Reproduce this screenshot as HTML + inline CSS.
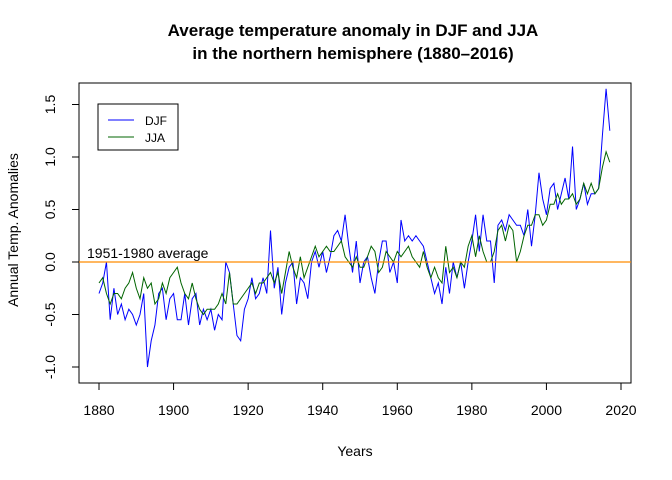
<!DOCTYPE html>
<html><head><meta charset="utf-8"><style>
body{margin:0;background:#fff}
svg{font-family:"Liberation Sans",Arial,sans-serif;display:block}
</style></head><body>
<svg id="chart" width="672" height="480">
<text x="353" y="36" text-anchor="middle" font-weight="bold" font-size="17">Average temperature anomaly in DJF and JJA</text>
<text x="353" y="59" text-anchor="middle" font-weight="bold" font-size="17">in the northern hemisphere (1880–2016)</text>
<rect x="79" y="83" width="552" height="300" fill="none" stroke="#000"/>
<text x="355" y="456" text-anchor="middle" font-size="14">Years</text>
<text transform="translate(18,230) rotate(-90)" text-anchor="middle" font-size="14">Annual Temp. Anomalies</text>
<g id="axes"></g>
<g id="series"></g>
<g>
<rect x="98" y="104" width="80" height="46" fill="#fff" stroke="#000"/>
<line x1="108" y1="120" x2="134" y2="120" stroke="#00f"/>
<text x="145" y="125" font-size="12">DJF</text>
<line x1="108" y1="137" x2="134" y2="137" stroke="#006400"/>
<text x="145" y="142" font-size="12">JJA</text>
</g>
</svg>
<script>
const startYear = 1880;
const djf = [-0.3,-0.2,0.0,-0.55,-0.25,-0.5,-0.4,-0.55,-0.45,-0.5,-0.6,-0.5,-0.3,-1.0,-0.75,-0.6,-0.3,-0.25,-0.55,-0.35,
-0.3,-0.55,-0.55,-0.3,-0.6,-0.35,-0.3,-0.6,-0.45,-0.55,-0.45,-0.65,-0.5,-0.55,0.0,-0.1,-0.4,-0.7,-0.75,-0.45,
-0.35,-0.15,-0.35,-0.3,-0.15,-0.3,0.3,-0.25,-0.05,-0.5,-0.2,-0.05,0.0,-0.4,-0.15,-0.2,-0.35,0.0,0.1,-0.05,
0.1,-0.1,0.05,0.25,0.3,0.2,0.45,0.15,-0.1,0.2,-0.2,0.0,0.05,-0.15,-0.3,0.0,0.2,0.2,-0.1,0.0,
-0.2,0.4,0.2,0.25,0.2,0.25,0.2,0.15,0.0,-0.15,-0.3,-0.2,-0.4,-0.05,-0.3,0.0,-0.15,0.0,-0.25,0.0,
0.2,0.45,0.1,0.45,0.2,0.2,-0.2,0.35,0.4,0.3,0.45,0.4,0.35,0.35,0.25,0.5,0.15,0.45,0.85,0.6,
0.45,0.7,0.75,0.5,0.65,0.8,0.6,1.1,0.5,0.6,0.75,0.55,0.65,0.65,0.7,1.2,1.65,1.25];
const jja = [-0.2,-0.15,-0.3,-0.4,-0.3,-0.3,-0.35,-0.25,-0.2,-0.1,-0.25,-0.35,-0.15,-0.25,-0.2,-0.4,-0.35,-0.2,-0.3,-0.15,
-0.1,-0.05,-0.2,-0.3,-0.35,-0.2,-0.35,-0.45,-0.5,-0.45,-0.45,-0.45,-0.4,-0.3,-0.4,-0.1,-0.4,-0.4,-0.35,-0.3,
-0.25,-0.2,-0.3,-0.2,-0.2,-0.15,-0.1,-0.2,-0.1,-0.3,-0.1,0.1,-0.05,-0.15,0.05,-0.15,-0.05,0.05,0.15,0.05,
0.1,0.15,0.1,0.1,0.15,0.2,0.05,0.0,-0.05,0.05,-0.05,-0.05,0.05,0.15,0.1,-0.1,-0.05,0.1,0.05,0.0,
0.1,0.05,0.1,0.15,0.05,0.0,-0.05,0.1,-0.05,-0.15,-0.05,-0.15,-0.2,0.15,-0.1,-0.05,-0.15,0.0,-0.05,
0.15,0.25,0.05,0.25,0.1,0.0,0.0,0.1,0.3,0.35,0.2,0.35,0.3,0.0,0.1,0.25,0.35,0.35,0.45,0.45,
0.35,0.4,0.55,0.55,0.65,0.55,0.6,0.6,0.65,0.55,0.6,0.75,0.65,0.75,0.65,0.7,0.9,1.05,0.95];
const xTicks = [1880,1900,1920,1940,1960,1980,2000,2020];
const yTicks = [-1.0,-0.5,0.0,0.5,1.0,1.5];
const yTickLabels = ["-1.0","-0.5","0.0","0.5","1.0","1.5"];

const NS="http://www.w3.org/2000/svg";
const xs = y => 99 + (y-1880)*(522/140);
const ys = v => 262 - v*105;
function mk(tag, attrs, parent){const e=document.createElementNS(NS,tag);for(const k in attrs)e.setAttribute(k,attrs[k]);parent.appendChild(e);return e;}
const axes=document.getElementById('axes'), series=document.getElementById('series');

const xl = mk('line',{x1:xs(xTicks[0]),x2:xs(xTicks[xTicks.length-1]),y1:383,y2:383,stroke:'#000'},axes);


xTicks.forEach(t=>{
  const l=mk('line',{x1:xs(t),x2:xs(t),y1:383,y2:390,stroke:'#000'},axes);
  
  
  const tx=mk('text',{x:xs(t),y:415,'text-anchor':'middle','font-size':14},axes);
  tx.textContent=t;
  
  
});
const yl = mk('line',{x1:79,x2:79,y1:ys(yTicks[0]),y2:ys(yTicks[yTicks.length-1]),stroke:'#000'},axes);


yTicks.forEach((t,i)=>{
  const l=mk('line',{x1:72,x2:79,y1:ys(t),y2:ys(t),stroke:'#000'},axes);
  
  
  const tx=mk('text',{transform:`translate(55,${ys(t)}) rotate(-90)`,'text-anchor':'middle','font-size':14},axes);
  tx.textContent=yTickLabels[i];
  
  
});

function line(data,color,name){
  const p=data.map((v,i)=>`${i?'L':'M'}${xs(startYear+i).toFixed(2)},${ys(v).toFixed(2)}`).join('');
  const e=mk('path',{d:p,fill:'none',stroke:color,'stroke-width':1},series);
  
  
}
line(djf,'#0000ff','djf-line');
line(jja,'#006400','jja-line');
const ref=mk('line',{x1:79,x2:631,y1:ys(0),y2:ys(0),stroke:'#ff8c00','stroke-width':1.2},series);


const ann=mk('text',{x:87,y:ys(0)-4,'font-size':14},series);
ann.textContent='1951-1980 average';


</script>
</body></html>
